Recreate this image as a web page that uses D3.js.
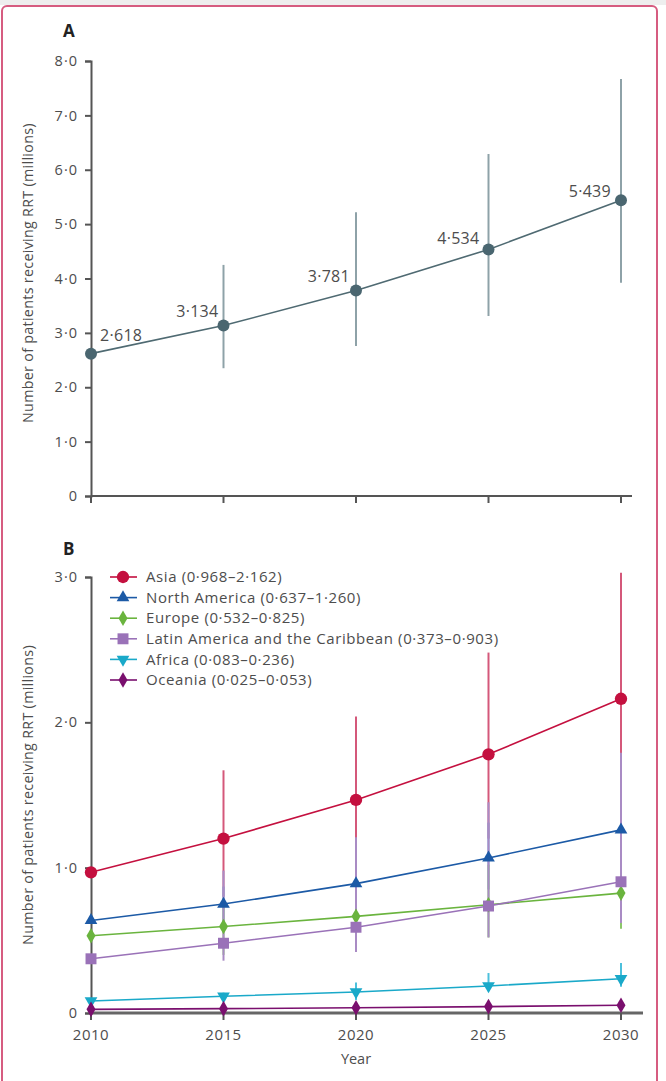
<!DOCTYPE html>
<html>
<head>
<meta charset="utf-8">
<script src="https://cdn.jsdelivr.net/npm/d3@7"></script>
<style>
  body { margin: 0; background: #fff; }
  text { font-family: "Open Sans", sans-serif; fill: #4d4d4d; }
</style>
</head>
<body>
<div id="chart"></div>
<script>
// data
var years = [2010, 2015, 2020, 2025, 2030];

// panel A: global total
var totalMid = [2.618, 3.134, 3.781, 4.534, 5.439];
var totalLo  = [2.618, 2.35, 2.76, 3.31, 3.92];
var totalHi  = [2.618, 4.25, 5.22, 6.29, 7.67];
var ticksA = [0, 1, 2, 3, 4, 5, 6, 7, 8];

// panel B: regions
var regions = ["Asia", "North America", "Europe", "Latin America and the Caribbean", "Africa", "Oceania"];
var ranges  = ["0·968–2·162", "0·637–1·260", "0·532–0·825", "0·373–0·903", "0·083–0·236", "0·025–0·053"];
var asiaMid   = [0.968, 1.20, 1.466, 1.78, 2.162];
var asiaLo    = [0.968, 0.80, 1.00, 1.20, 1.40];
var asiaHi    = [0.968, 1.67, 2.04, 2.48, 3.03];
var namMid    = [0.637, 0.75, 0.89, 1.067, 1.26];
var namLo     = [0.637, 0.62, 0.72, 0.85, 0.98];
var namHi     = [0.637, 0.87, 1.07, 1.31, 1.58];
var eurMid    = [0.532, 0.595, 0.665, 0.745, 0.825];
var eurLo     = [0.532, 0.40, 0.45, 0.52, 0.58];
var eurHi     = [0.532, 0.78, 0.90, 1.02, 1.12];
var latMid    = [0.373, 0.48, 0.59, 0.736, 0.903];
var latLo     = [0.373, 0.36, 0.42, 0.52, 0.62];
var latHi     = [0.373, 0.98, 1.21, 1.45, 1.79];
var afrMid    = [0.083, 0.115, 0.145, 0.186, 0.236];
var afrLo     = [0.083, 0.09, 0.09, 0.16, 0.18];
var afrHi     = [0.083, 0.14, 0.21, 0.275, 0.344];
var oceMid    = [0.025, 0.030, 0.036, 0.044, 0.053];
var oceLo     = [0.025, 0.022, 0.025, 0.030, 0.035];
var oceHi     = [0.025, 0.040, 0.050, 0.060, 0.075];
var ticksB = [0, 1, 2, 3];

var colors    = ["#c4103f", "#1c5aa6", "#6ab43e", "#9a72b8", "#1aa9c9", "#7a0f6e"];
var barColors = ["#d4587a", "#6b99d6", "#8cc66a", "#a98bc4", "#4cc0dc", "#8a3a82"];
var symbols   = [d3.symbolCircle, d3.symbolTriangle, d3.symbolDiamond, d3.symbolSquare, d3.symbolTriangle, d3.symbolDiamond];
var symSizes  = [120, 70, 70, 120, 70, 70];

var series = [
  {mid: asiaMid, lo: asiaLo, hi: asiaHi},
  {mid: namMid, lo: namLo, hi: namHi},
  {mid: eurMid, lo: eurLo, hi: eurHi},
  {mid: latMid, lo: latLo, hi: latHi},
  {mid: afrMid, lo: afrLo, hi: afrHi},
  {mid: oceMid, lo: oceLo, hi: oceHi}
];

var W = 666, H = 1081;
var svg = d3.select("#chart").append("svg").attr("width", W).attr("height", H);

// frame
svg.append("rect").attr("x", 0).attr("y", 0).attr("width", W).attr("height", 5).attr("fill", "#eeeeee");
svg.append("rect").attr("x", 2).attr("y", 6).attr("width", 655).attr("height", 1100)
  .attr("rx", 5).attr("fill", "none").attr("stroke", "#d65c80").attr("stroke-width", 2);

var fmt = function(d) { return d === 0 ? "0" : d.toFixed(1).replace(".", "·"); };

var x = d3.scaleLinear().domain([2010, 2030]).range([91, 621]);

function styleAxis(g) {
  g.selectAll("path, line").attr("stroke", "#555").attr("stroke-width", 2);
  g.selectAll("text").style("font-size", "14.5px").style("letter-spacing", "1px").style("fill", "#4d4d4d");
}

// ---------- Panel A ----------
var yA = d3.scaleLinear().domain([0, 8]).range([496, 61]);

svg.append("text").attr("x", 63).attr("y", 37).text("A")
  .style("font-size", "17px").style("font-weight", "bold").style("fill", "#222");

svg.append("g").attr("transform", "translate(91,0)")
  .call(d3.axisLeft(yA).tickValues(ticksA).tickFormat(fmt).tickSize(6).tickSizeOuter(6).tickPadding(7))
  .call(styleAxis);

// x axis A (no labels)
var gxA = svg.append("g").attr("transform", "translate(0,496)");
gxA.append("line").attr("x1", 91).attr("x2", 632).attr("y1", 0).attr("y2", 0)
  .attr("stroke", "#555").attr("stroke-width", 2);
gxA.selectAll("line.tk").data(years).enter().append("line").attr("class", "tk")
  .attr("x1", function(d) { return x(d); }).attr("x2", function(d) { return x(d); })
  .attr("y1", 0).attr("y2", 7).attr("stroke", "#555").attr("stroke-width", 2);

svg.append("text")
  .attr("transform", "translate(33," + yA(4.1) + ") rotate(-90)")
  .attr("text-anchor", "middle")
  .style("font-size", "14.3px").style("letter-spacing", "0.3px")
  .text("Number of patients receiving RRT (millions)");

var gA = svg.append("g");
gA.selectAll("line.eb").data(years).enter().append("line").attr("class", "eb")
  .attr("x1", function(d) { return x(d); }).attr("x2", function(d) { return x(d); })
  .attr("y1", function(d, i) { return yA(totalLo[i]); })
  .attr("y2", function(d, i) { return yA(totalHi[i]); })
  .attr("stroke", "#8ea2a8").attr("stroke-width", 2);

gA.append("path").datum(years)
  .attr("d", d3.line().x(function(d) { return x(d); }).y(function(d, i) { return yA(totalMid[i]); }))
  .attr("fill", "none").attr("stroke", "#4f6a72").attr("stroke-width", 1.6);

gA.selectAll("circle").data(years).enter().append("circle")
  .attr("cx", function(d) { return x(d); })
  .attr("cy", function(d, i) { return yA(totalMid[i]); })
  .attr("r", 6).attr("fill", "#4a6670");

// label placement (layout only)
var labDx = [9, -5, -6, -9, -10], labDy = [-13, -9, -8, -5, -3];
var labAnchor = ["start", "end", "end", "end", "end"];
gA.selectAll("text.val").data(years).enter().append("text").attr("class", "val")
  .attr("x", function(d, i) { return x(d) + labDx[i]; })
  .attr("y", function(d, i) { return yA(totalMid[i]) + labDy[i]; })
  .attr("text-anchor", function(d, i) { return labAnchor[i]; })
  .style("font-size", "16px").style("letter-spacing", "0.3px")
  .text(function(d, i) { return totalMid[i].toFixed(3).replace(".", "·"); });

// ---------- Panel B ----------
var yB = d3.scaleLinear().domain([0, 3]).range([1013, 577]);

svg.append("text").attr("x", 63).attr("y", 555).text("B")
  .style("font-size", "17px").style("font-weight", "bold").style("fill", "#222");

svg.append("g").attr("transform", "translate(91,0)")
  .call(d3.axisLeft(yB).tickValues(ticksB).tickFormat(fmt).tickSize(6).tickSizeOuter(6).tickPadding(7))
  .call(styleAxis);

var gxB = svg.append("g").attr("transform", "translate(0,1013)");
gxB.append("line").attr("x1", 91).attr("x2", 643).attr("y1", 0).attr("y2", 0)
  .attr("stroke", "#666").attr("stroke-width", 3);
gxB.selectAll("line.tk").data(years).enter().append("line").attr("class", "tk")
  .attr("x1", function(d) { return x(d); }).attr("x2", function(d) { return x(d); })
  .attr("y1", 0).attr("y2", 7).attr("stroke", "#555").attr("stroke-width", 2);
gxB.selectAll("text").data(years).enter().append("text")
  .attr("x", function(d) { return x(d); }).attr("y", 27)
  .attr("text-anchor", "middle").style("font-size", "15px").style("letter-spacing", "0.5px")
  .text(function(d) { return d; });

svg.append("text").attr("x", x(2020)).attr("y", 1064).attr("text-anchor", "middle")
  .style("font-size", "14.5px").text("Year");

svg.append("text")
  .attr("transform", "translate(33," + yB(1.5) + ") rotate(-90)")
  .attr("text-anchor", "middle")
  .style("font-size", "14.3px").style("letter-spacing", "0.3px")
  .text("Number of patients receiving RRT (millions)");

var gB = svg.append("g");
series.forEach(function(s, k) {
  var g = gB.append("g");
  g.selectAll("line").data(years).enter().append("line")
    .attr("x1", function(d) { return x(d); }).attr("x2", function(d) { return x(d); })
    .attr("y1", function(d, i) { return yB(s.lo[i]); })
    .attr("y2", function(d, i) { return yB(s.hi[i]); })
    .attr("stroke", barColors[k]).attr("stroke-width", 2);
});
series.forEach(function(s, k) {
  var g = gB.append("g");
  g.append("path").datum(years)
    .attr("d", d3.line().x(function(d) { return x(d); }).y(function(d, i) { return yB(s.mid[i]); }))
    .attr("fill", "none").attr("stroke", colors[k]).attr("stroke-width", 1.6);
  g.selectAll("path.pt").data(years).enter().append("path").attr("class", "pt")
    .attr("transform", function(d, i) {
      return "translate(" + x(d) + "," + yB(s.mid[i]) + ")" + (k === 4 ? " rotate(180)" : "");
    })
    .attr("d", d3.symbol().type(symbols[k]).size(symSizes[k]))
    .attr("fill", colors[k]);
});

// legend
var lg = svg.append("g").attr("transform", "translate(110,577)");
var rows = lg.selectAll("g").data(regions).enter().append("g")
  .attr("transform", function(d, i) { return "translate(0," + (i * 20.6) + ")"; });
rows.append("line").attr("x1", 0).attr("x2", 27).attr("y1", 0).attr("y2", 0)
  .attr("stroke", function(d, i) { return colors[i]; }).attr("stroke-width", 1.6);
rows.append("path")
  .attr("transform", function(d, i) { return "translate(13,0)" + (i === 4 ? " rotate(180)" : ""); })
  .attr("d", function(d, i) { return d3.symbol().type(symbols[i]).size(symSizes[i])(); })
  .attr("fill", function(d, i) { return colors[i]; });
rows.append("text").attr("x", 36).attr("y", 0).attr("dy", "0.35em")
  .style("font-size", "15px").style("letter-spacing", "0.6px")
  .text(function(d, i) { return d + " (" + ranges[i] + ")"; });
</script>
</body>
</html>
